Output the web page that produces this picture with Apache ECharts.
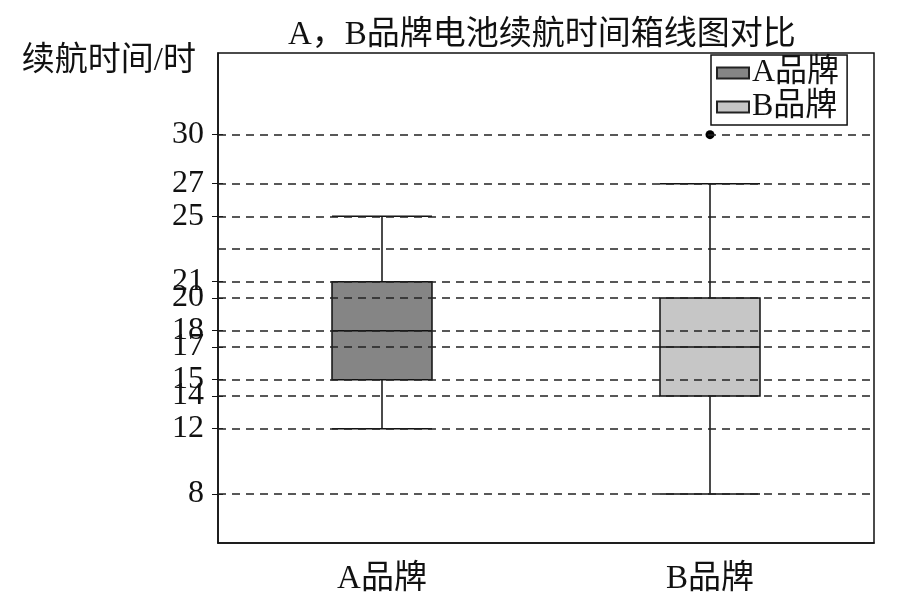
<!DOCTYPE html>
<html>
<head>
<meta charset="utf-8">
<script src="https://cdn.jsdelivr.net/npm/echarts@6/dist/echarts.min.js"></script>
<style>html,body{margin:0;padding:0;background:#fff}#c{width:901px;height:608px}</style>
</head>
<body>
<div id="c"></div>
<script>
const categories = ['A品牌', 'B品牌'];
// [min, Q1, median, Q3, max]
const brandA = [12, 15, 18, 21, 25];
const brandB = [8, 14, 17, 20, 27];
const outliersB = [30];
const tickValues = [8, 12, 14, 15, 17, 18, 20, 21, 25, 27, 30];
const gridValues = [8, 12, 14, 15, 17, 18, 20, 21, 23, 25, 27, 30];

const FONT = '"Liberation Serif", "Times New Roman", "Noto Sans CJK SC", serif';
const chart = echarts.init(document.getElementById('c'), null, {renderer: 'canvas'});
chart.setOption({
  backgroundColor: '#fff',
  animation: false,
  title: {
    text: 'A，B品牌电池续航时间箱线图对比',
    left: 283, top: 14,
    textStyle: {fontFamily: FONT, fontSize: 33, fontWeight: 'normal', color: '#111'}
  },
  legend: {
    orient: 'vertical',
    left: 711, top: 55,
    padding: [2, 8, 2, 5],
    itemGap: 2,
    itemWidth: 32, itemHeight: 11,
    borderColor: '#111', borderWidth: 1.5,
    textStyle: {fontFamily: FONT, fontSize: 32, color: '#111', padding: [0, 0, 0, -2]},
    data: [
      {name: 'A品牌', icon: 'rect', itemStyle: {color: '#858585', borderColor: '#222', borderWidth: 2}},
      {name: 'B品牌', icon: 'rect', itemStyle: {color: '#c6c6c6', borderColor: '#222', borderWidth: 2}}
    ]
  },
  grid: {
    left: 218, right: 27, top: 53, bottom: 65,
    show: true, borderColor: '#111', borderWidth: 1.5, backgroundColor: 'transparent'
  },
  xAxis: [
    {
      type: 'category',
      data: categories,
      axisLine: {lineStyle: {color: '#111', width: 1.5}},
      axisTick: {alignWithLabel: true, length: 6, lineStyle: {color: '#111'}},
      axisLabel: {fontFamily: FONT, fontSize: 33, color: '#111', margin: 20},
      splitLine: {show: false}
    },
    {
      type: 'category',
      data: categories,
      position: 'bottom',
      show: false
    }
  ],
  yAxis: [
    {
      type: 'value',
      min: 5, max: 35,
      name: '续航时间/时',
      nameLocation: 'end',
      nameGap: -8,
      nameTextStyle: {fontFamily: FONT, fontSize: 33, color: '#111', align: 'right', verticalAlign: 'middle', padding: [0, 22, 0, 0]},
      axisLine: {show: true, lineStyle: {color: '#111', width: 1.5}},
      axisTick: {show: true, customValues: tickValues, length: 6, lineStyle: {color: '#111'}},
      axisLabel: {customValues: tickValues, fontFamily: FONT, fontSize: 32, color: '#111', margin: 14},
      splitLine: {show: false}
    },
    {
      type: 'value',
      min: 5, max: 35,
      position: 'left',
      axisLine: {show: false},
      axisTick: {show: true, inside: true, customValues: tickValues, length: 5, lineStyle: {color: '#111'}},
      axisLabel: {show: false},
      splitLine: {show: false}
    }
  ],
  series: [
    {
      name: 'A品牌',
      type: 'boxplot',
      xAxisIndex: 0,
      boxWidth: [100, 100],
      itemStyle: {color: '#858585', borderColor: '#111', borderWidth: 1.5},
      data: [brandA, '-'],
      markLine: {
        silent: true,
        symbol: 'none',
        label: {show: false},
        lineStyle: {type: [8, 6], color: '#222', width: 1.5},
        data: gridValues.map(v => ({yAxis: v}))
      },
      z: 2
    },
    {
      name: 'B品牌',
      type: 'boxplot',
      xAxisIndex: 1,
      boxWidth: [100, 100],
      itemStyle: {color: '#c6c6c6', borderColor: '#111', borderWidth: 1.5},
      data: ['-', brandB],
      z: 1
    },
    {
      name: 'B品牌离群值',
      type: 'scatter',
      xAxisIndex: 0,
      symbol: 'circle',
      symbolSize: 9,
      itemStyle: {color: '#000', opacity: 1},
      data: outliersB.map(v => [categories[1], v]),
      z: 3
    }
  ]
});
</script>
</body>
</html>
